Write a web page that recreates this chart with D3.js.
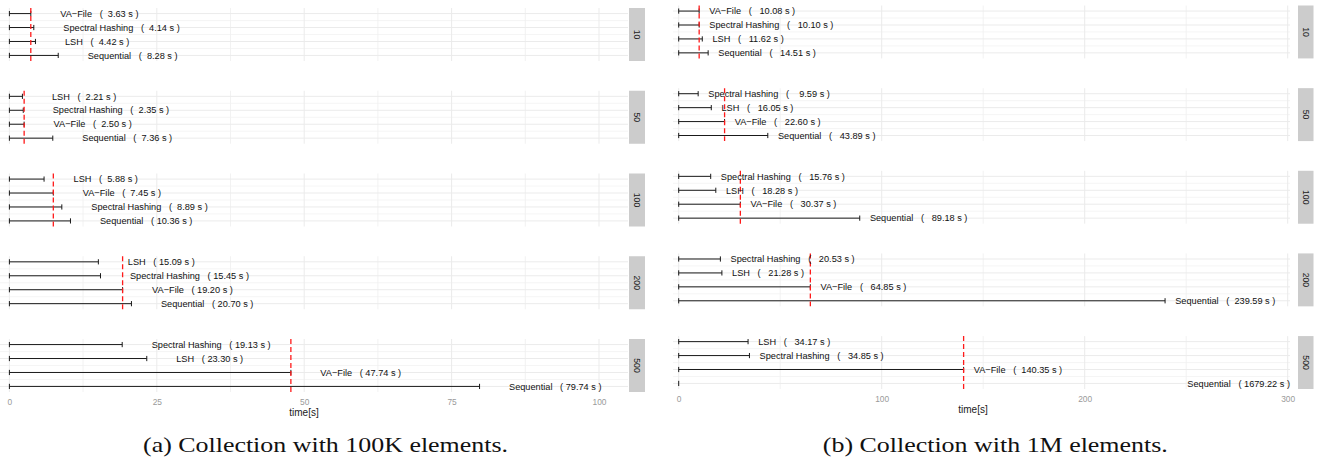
<!DOCTYPE html>
<html>
<head>
<meta charset="utf-8">
<script src="https://cdn.jsdelivr.net/npm/d3@7"></script>
<style>
  body { margin: 0; background: #fff; }
  text { white-space: pre; }
</style>
</head>
<body>
<div id="chart"></div>
<script>
// facet labels (number of queries)
var facets = ["10", "50", "100", "200", "500"];

// collection with 100K elements, rows top to bottom inside each facet
var names_100k = [
  ["VA−File", "Spectral Hashing", "LSH", "Sequential"],
  ["LSH", "Spectral Hashing", "VA−File", "Sequential"],
  ["LSH", "VA−File", "Spectral Hashing", "Sequential"],
  ["LSH", "Spectral Hashing", "VA−File", "Sequential"],
  ["Spectral Hashing", "LSH", "VA−File", "Sequential"]
];
var times_100k = [
  [3.63, 4.14, 4.42, 8.28],
  [2.21, 2.35, 2.50, 7.36],
  [5.88, 7.45, 8.89, 10.36],
  [15.09, 15.45, 19.20, 20.70],
  [19.13, 23.30, 47.74, 79.74]
];
var ticks_100k = [0, 25, 50, 75, 100];

// collection with 1M elements
var names_1m = [
  ["VA−File", "Spectral Hashing", "LSH", "Sequential"],
  ["Spectral Hashing", "LSH", "VA−File", "Sequential"],
  ["Spectral Hashing", "LSH", "VA−File", "Sequential"],
  ["Spectral Hashing", "LSH", "VA−File", "Sequential"],
  ["LSH", "Spectral Hashing", "VA−File", "Sequential"]
];
var times_1m = [
  [10.08, 10.10, 11.62, 14.51],
  [9.59, 16.05, 22.60, 43.89],
  [15.76, 18.28, 30.37, 89.18],
  [20.53, 21.28, 64.85, 239.59],
  [34.17, 34.85, 140.35, 1679.22]
];
var ticks_1m = [0, 100, 200, 300];

var svg;
const width = 1323, height = 463;
const labelFont = "'Liberation Sans', Arial, sans-serif";

document.addEventListener('DOMContentLoaded', function () {
  svg = d3.select("#chart")
    .append("svg")
    .attr("width", width)
    .attr("height", height);

  drawPanel({
    id: "a", names: names_100k, times: times_100k, ticks: ticks_100k,
    xr: [9.4, 599], panel: [0, 628], strip: [629, 16], yr: [8, 392], titleX: 304,
    caption: "(a) Collection with 100K elements.", capX: 325.5, capW: 365
  });
  drawPanel({
    id: "b", names: names_1m, times: times_1m, ticks: ticks_1m,
    xr: [678.7, 1287.7], panel: [673, 1290], strip: [1298, 15.5], yr: [5.5, 389], titleX: 973,
    caption: "(b) Collection with 1M elements.", capX: 995.3, capW: 345
  });
});

function pad(v, w) {
  var s = v.toFixed(2);
  while (s.length < w) s = " " + s;
  return s;
}

function drawPanel(p) {
  var dmax = p.ticks[p.ticks.length - 1];
  var x_scale = d3.scaleLinear().domain([0, dmax]).range(p.xr);
  var right = p.panel[1];
  var left = p.panel[0];

  // facet bands
  var f_scale = d3.scaleBand().domain(facets).range(p.yr).paddingInner(0.3595).paddingOuter(0);
  var bh = f_scale.bandwidth();

  // widest number, used to pad labels like R's format()
  var w = d3.max(p.times.flat(), v => v.toFixed(2).length);

  var minor = [];
  for (var i = 0; i < p.ticks.length - 1; i++) minor.push((p.ticks[i] + p.ticks[i + 1]) / 2);

  svg.append("clipPath").attr("id", "clip" + p.id)
    .append("rect").attr("x", left).attr("y", 0).attr("width", right - left).attr("height", height);

  facets.forEach(function (f, fi) {
    var top = f_scale(f);
    var names = p.names[fi];
    var times = p.times[fi];
    var rows = d3.range(names.length);
    var y_scale = d3.scalePoint().domain(rows).range([top, top + bh]).padding(0.4);
    var step = y_scale.step();

    var g = svg.append("g").attr("clip-path", "url(#clip" + p.id + ")");

    // minor horizontal grid
    g.selectAll(".hminor")
      .data(rows.slice(0, -1))
      .enter().append("line")
      .attr("x1", left).attr("x2", right)
      .attr("y1", d => y_scale(d) + step / 2).attr("y2", d => y_scale(d) + step / 2)
      .attr("stroke", "#f3f3f3").attr("stroke-width", 0.8);

    // minor vertical grid
    g.selectAll(".vminor")
      .data(minor)
      .enter().append("line")
      .attr("x1", d => x_scale(d)).attr("x2", d => x_scale(d))
      .attr("y1", top).attr("y2", top + bh)
      .attr("stroke", "#f0f0f0").attr("stroke-width", 0.9);

    // major grid
    g.selectAll(".hmajor")
      .data(rows)
      .enter().append("line")
      .attr("x1", left).attr("x2", right)
      .attr("y1", d => y_scale(d)).attr("y2", d => y_scale(d))
      .attr("stroke", "#ebebeb").attr("stroke-width", 1);

    g.selectAll(".vmajor")
      .data(p.ticks)
      .enter().append("line")
      .attr("x1", d => x_scale(d)).attr("x2", d => x_scale(d))
      .attr("y1", top).attr("y2", top + bh)
      .attr("stroke", "#ebebeb").attr("stroke-width", 1);

    // error bars from 0 to time
    g.selectAll(".bar")
      .data(rows.filter(r => times[r] <= dmax))
      .enter().append("line")
      .attr("x1", x_scale(0)).attr("x2", d => x_scale(times[d]))
      .attr("y1", d => y_scale(d)).attr("y2", d => y_scale(d))
      .attr("stroke", "#1a1a1a").attr("stroke-width", 1);

    g.selectAll(".cap0")
      .data(rows)
      .enter().append("line")
      .attr("x1", x_scale(0)).attr("x2", x_scale(0))
      .attr("y1", d => y_scale(d) - 2.6).attr("y2", d => y_scale(d) + 2.6)
      .attr("stroke", "#1a1a1a").attr("stroke-width", 1);

    g.selectAll(".cap1")
      .data(rows.filter(r => times[r] <= dmax))
      .enter().append("line")
      .attr("x1", d => x_scale(times[d])).attr("x2", d => x_scale(times[d]))
      .attr("y1", d => y_scale(d) - 2.6).attr("y2", d => y_scale(d) + 2.6)
      .attr("stroke", "#1a1a1a").attr("stroke-width", 1);

    // labels
    svg.selectAll(".lab" + p.id + fi)
      .data(rows)
      .enter().append("text")
      .attr("xml:space", "preserve")
      .attr("x", d => times[d] + 5 > dmax ? right : x_scale(times[d] + 5))
      .attr("y", d => y_scale(d))
      .attr("dy", "0.35em")
      .attr("text-anchor", d => times[d] + 5 > dmax ? "end" : "start")
      .style("font-family", labelFont).style("font-size", "9.2px")
      .attr("fill", "#111")
      .text(d => names[d] + "   ( " + pad(times[d], w) + " s )");

    // red dashed line at VA-File
    var va = times[names.indexOf("VA−File")];
    g.append("line")
      .attr("x1", x_scale(va)).attr("x2", x_scale(va))
      .attr("y1", top).attr("y2", top + bh)
      .attr("stroke", "#ff1a1a").attr("stroke-width", 1.3)
      .attr("stroke-dasharray", "5,3");

    // strip
    svg.append("rect")
      .attr("x", p.strip[0]).attr("y", top)
      .attr("width", p.strip[1]).attr("height", bh)
      .attr("fill", "#cccccc");
    svg.append("text")
      .attr("transform", "translate(" + (p.strip[0] + p.strip[1] / 2) + "," + (top + bh / 2) + ") rotate(90)")
      .attr("text-anchor", "middle").attr("dy", "0.35em")
      .style("font-family", labelFont).style("font-size", "8.6px")
      .attr("fill", "#1a1a1a")
      .text(f);
  });

  var bottom = p.yr[1];

  // x axis
  var x_axis = svg.append("g")
    .attr("transform", "translate(0," + bottom + ")")
    .call(d3.axisBottom(x_scale).tickValues(p.ticks).tickSize(0).tickPadding(7).tickFormat(d3.format("d")));
  x_axis.select(".domain").remove();
  x_axis.selectAll("text")
    .style("font-family", labelFont).style("font-size", "8.4px")
    .attr("fill", "#9a9a9a");

  svg.append("text")
    .attr("x", p.titleX)
    .attr("y", bottom + 23.5)
    .attr("text-anchor", "middle")
    .style("font-family", labelFont).style("font-size", "10px")
    .attr("fill", "#1a1a1a")
    .text("time[s]");

  // caption
  svg.append("text")
    .attr("x", p.capX).attr("y", 452)
    .attr("text-anchor", "middle")
    .attr("textLength", p.capW).attr("lengthAdjust", "spacingAndGlyphs")
    .style("font-family", "'Liberation Serif', 'Times New Roman', serif").style("font-size", "21px")
    .attr("fill", "#111")
    .text(p.caption);
}
</script>
</body>
</html>
